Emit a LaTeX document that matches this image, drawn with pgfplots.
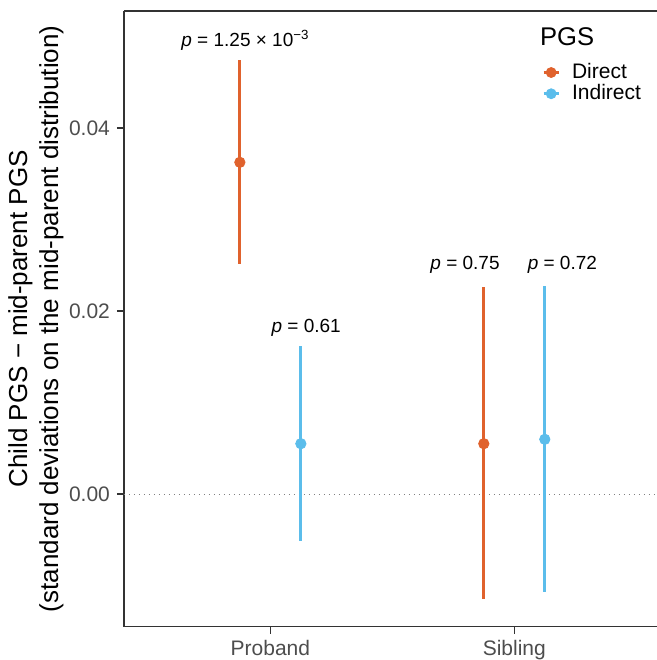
\documentclass[border=0pt]{standalone}
\usepackage{fontspec}
\setmainfont{Liberation Sans}
\usepackage{pgfplots}
\usepackage{pgfplotstable}
\pgfplotsset{compat=1.18}

\definecolor{direct}{HTML}{E0622D}
\definecolor{indirect}{HTML}{5BBDEB}
\definecolor{axgray}{HTML}{333333}
\definecolor{ticklab}{HTML}{4D4D4D}

% estimate, lower and upper end of the interval
\pgfplotstableread{
x     y       lo       hi
0.875 0.03625 0.02510  0.04743
1.875 0.00550 -0.01151 0.02259
}\directdata
\pgfplotstableread{
x     y       lo       hi
1.125 0.00550 -0.00510 0.01617
2.125 0.00598 -0.01068 0.02273
}\indirectdata

\begin{document}
\begin{tikzpicture}
\begin{axis}[
    name=ax,
    scale only axis,
    width=266.5pt, height=307.85pt,
    xmin=0.4, xmax=2.585,
    ymin=-0.0145, ymax=0.05279,
    axis x line*=box, axis y line*=left,
    axis line style={-, axgray, line width=0.6pt},
    xtick={1,2}, xticklabels={Proband,Sibling},
    ytick={0,0.02,0.04},
    scaled y ticks=false,
    xtick pos=bottom, ytick pos=left,
    tick align=outside,
    major tick length=3.5pt,
    tick style={axgray, line width=0.6pt},
    ticklabel style={font=\fontsize{10.5}{12}\selectfont, color=ticklab},
    /pgf/number format/assume math mode=true,
    yticklabel style={/pgf/number format/fixed, /pgf/number format/fixed zerofill,
        /pgf/number format/precision=2},
    ylabel={Child PGS − mid-parent PGS\\(standard deviations on the mid-parent distribution)},
    ylabel style={at={(axis description cs:-0.1,0.5)}, anchor=south,
        align=center, font=\fontsize{13}{15.5}\selectfont},
    legend style={at={(rel axis cs:0.784,0.922)}, anchor=north west, draw=none,
        fill=none, inner sep=0pt, font=\fontsize{10.5}{12}\selectfont,
        cells={anchor=west}, row sep=-2.5pt},
]

\addplot[dotted, color=gray, line width=0.5pt, forget plot] coordinates {(0.4,0) (2.585,0)};

\addplot[only marks, mark=*, mark size=2.6pt, color=direct,
    legend image code/.code={\draw[direct, line width=1.4pt] (0pt,0pt) -- (7.5pt,0pt); \fill[direct] (3.75pt,0pt) circle (2.5pt); \path (12pt,0pt);},
    error bars/.cd, y dir=both, y explicit, error mark=none,
    error bar style={line width=1.4pt, color=direct}]
    table[x=x, y=y, y error plus expr=\thisrow{hi}-\thisrow{y}, y error minus expr=\thisrow{y}-\thisrow{lo}] {\directdata};
\addlegendentry{Direct}

\addplot[only marks, mark=*, mark size=2.6pt, color=indirect,
    legend image code/.code={\draw[indirect, line width=1.4pt] (0pt,0pt) -- (7.5pt,0pt); \fill[indirect] (3.75pt,0pt) circle (2.5pt); \path (12pt,0pt);},
    error bars/.cd, y dir=both, y explicit, error mark=none,
    error bar style={line width=1.4pt, color=indirect}]
    table[x=x, y=y, y error plus expr=\thisrow{hi}-\thisrow{y}, y error minus expr=\thisrow{y}-\thisrow{lo}] {\indirectdata};
\addlegendentry{Indirect}

\node[font=\fontsize{9.5}{11}\selectfont] at (axis cs:0.898,0.0496) {\textit{p} = 1.25 × 10\textsuperscript{−3}};
\node[font=\fontsize{9.5}{11}\selectfont] at (axis cs:1.147,0.01814) {\textit{p} = 0.61};
\node[font=\fontsize{9.5}{11}\selectfont] at (axis cs:1.798,0.02503) {\textit{p} = 0.75};
\node[font=\fontsize{9.5}{11}\selectfont] at (axis cs:2.197,0.02503) {\textit{p} = 0.72};
\node[anchor=west, inner sep=0pt, font=\fontsize{12.8}{15}\selectfont] at (rel axis cs:0.78,0.958) {PGS};
\end{axis}
\pgfresetboundingbox
\path[use as bounding box] ([xshift=-62pt,yshift=-16.65pt]ax.south west) rectangle ([yshift=5.5pt]ax.north east);
\end{tikzpicture}
\end{document}
